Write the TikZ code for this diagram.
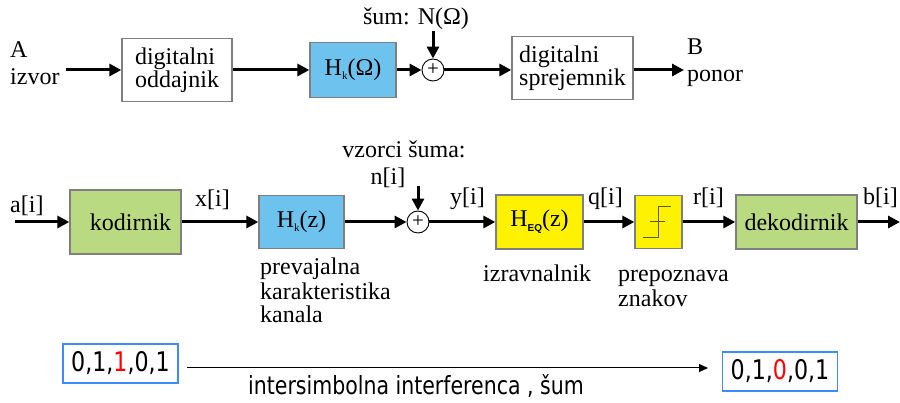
\documentclass[tikz,border=0pt]{standalone}
\usepackage{fontspec}
\setmainfont{Liberation Serif}
\setsansfont{Liberation Sans}
\newfontfamily\tahoma[FakeStretch=0.82]{DejaVu Sans}
\usetikzlibrary{arrows.meta}
\definecolor{boxgray}{HTML}{7F7F7F}
\definecolor{chblue}{HTML}{6EC3EE}
\definecolor{chgreen}{HTML}{B9DA80}
\definecolor{chyellow}{HTML}{FFF200}
\definecolor{frameblue}{HTML}{3D8BFF}
\definecolor{stepcol}{HTML}{5C5C00}
\begin{document}
\begin{tikzpicture}[x=1pt,y=-1pt,
  every node/.style={font=\fontsize{24}{23}\selectfont, inner sep=0pt},
  blk/.style={draw=boxgray, line width=1.3pt, align=left},
  sig/.style={line width=3pt, -{Triangle[length=12pt,width=12pt]}},
  sumnode/.style={circle, draw=black, line width=0.9pt, fill=white, minimum size=22pt, font=\fontsize{21}{21}\selectfont},
  lbl/.style={anchor=base west},
  seqbox/.style={draw=frameblue, line width=1.2pt, minimum width=115pt, minimum height=39pt, font=\tahoma\fontsize{27}{27}\selectfont}
]
\useasboundingbox (0,0) rectangle (900,403);
% top row
\node[lbl] (A) at (10,58) {A};
\node[lbl] (izvor) at (10,85) {izvor};
\coordinate (aout) at (66,70);
\node[blk, minimum width=110pt, minimum height=63pt] (tx) at (177,70) {digitalni\\oddajnik};
\node[blk, fill=chblue, minimum width=86pt, minimum height=55pt] (hk) at (353,70) {H\raisebox{-4pt}{\fontsize{11}{11}\selectfont k}(Ω)};
\node[sumnode] (s1) at (433,70) {+};
\node[anchor=base] (noise) at (416,25) {šum: N(Ω)};
\coordinate (ntop) at (433,31);
\node[blk, minimum width=121pt, minimum height=63pt] (rx) at (572.5,68) {digitalni\\sprejemnik};
\coordinate (bin) at (684,70);
\node[lbl] (B) at (687,55) {B};
\node[lbl] (ponor) at (687,82) {ponor};
\draw[sig] (aout) -- (tx);
\draw[sig] (tx) -- (hk);
\draw[sig] (hk) -- (s1);
\draw[sig] (ntop) -- (s1);
\draw[sig] (s1) -- (rx.west |- s1);
\draw[sig] (rx.east |- bin) -- (bin);
% bottom row
\node[lbl] (ai) at (10,213) {a[i]};
\coordinate (ain) at (15,222);
\node[blk, fill=chgreen, minimum width=111pt, minimum height=64pt] (cod) at (125.5,222) {\hspace{10pt}kodirnik};
\node[lbl] (xi) at (195,207) {x[i]};
\node[blk, fill=chblue, minimum width=85pt, minimum height=53pt] (hz) at (301.5,222) {H\raisebox{-4pt}{\fontsize{11}{11}\selectfont k}(z)};
\node[sumnode] (s2) at (418,222) {+};
\node[anchor=base] (vz) at (404,158) {vzorci šuma:};
\node[anchor=base] (ni) at (388,185) {n[i]};
\coordinate (ntop2) at (418,186);
\node[lbl] (yi) at (450,205) {y[i]};
\node[blk, fill=chyellow, minimum width=87pt, minimum height=54pt] (heq) at (539.5,222) {H\raisebox{-5pt}{\fontsize{10}{10}\selectfont\sffamily\bfseries EQ}(z)};
\node[lbl] (qi) at (588,205) {q[i]};
\node[blk, fill=chyellow, minimum width=47pt, minimum height=53pt] (dec) at (658.5,222) {};
\draw[stepcol, line width=1pt] ([shift={(-15.5,15.5)}]dec.center) -- ++(15,0) -- ++(0,-31) -- ++(13,0);
\draw[stepcol, line width=1pt] ([shift={(-8.5,0)}]dec.center) -- ++(15,0);
\node[lbl] (ri) at (693,205) {r[i]};
\node[blk, fill=chgreen, minimum width=121pt, minimum height=54pt] (dcod) at (796.5,222) {dekodirnik};
\node[lbl] (bi) at (863,205) {b[i]};
\coordinate (bout) at (900,222);
\draw[sig] (ain) -- (cod);
\draw[sig] (cod) -- (hz);
\draw[sig] (hz) -- (s2);
\draw[sig] (ntop2) -- (s2);
\draw[sig] (s2) -- (heq);
\draw[sig] (heq) -- (dec);
\draw[sig] (dec) -- (dcod);
\draw[sig] (dcod) -- (bout);
\node[lbl] (prev1) at (260,275) {prevajalna};
\node[lbl] (prev2) at (260,300) {karakteristika};
\node[lbl] (prev3) at (260,323) {kanala};
\node[lbl] (izr) at (483,282) {izravnalnik};
\node[lbl] (prep1) at (618,282) {prepoznava};
\node[lbl] (prep2) at (618,307) {znakov};
% bottom sequences
\node[seqbox] (seq1) at (120.5,363.5) {0,1,{\color{red}1},0,1};
\node[seqbox] (seq2) at (780,371.5) {0,1,{\color{red}0},0,1};
\coordinate (isi1) at (187,368);
\coordinate (isi2) at (708,368);
\draw[line width=1pt, -{Triangle[length=9pt,width=8pt]}] (isi1) -- (isi2);
\node[anchor=base west, font=\tahoma\fontsize{25}{25}\selectfont] (isi) at (248,395) {intersimbolna interferenca , šum};
\end{tikzpicture}
\end{document}
